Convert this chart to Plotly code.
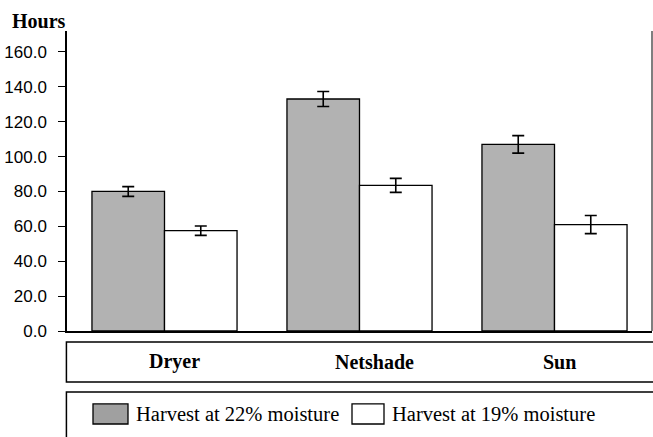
import plotly.graph_objects as go

categories = ["Dryer", "Netshade", "Sun"]
series_names = ["Harvest at 22% moisture", "Harvest at 19% moisture"]
hours_22 = [80.0, 133.0, 107.0]
err_22 = [2.8, 4.3, 5.0]
hours_19 = [57.5, 83.5, 61.0]
err_19 = [2.7, 4.0, 5.2]
y_ticks = [0, 20, 40, 60, 80, 100, 120, 140, 160]
y_tick_labels = ["0.0", "20.0", "40.0", "60.0", "80.0", "100.0", "120.0", "140.0", "160.0"]

fills = ["#b2b2b2", "#ffffff"]
legend_fills = ["#a0a0a0", "#ffffff"]

fig = go.Figure()
for name, vals, errs, col in zip(series_names, [hours_22, hours_19], [err_22, err_19], fills):
    fig.add_trace(go.Bar(
        x=categories, y=vals, name=name,
        marker=dict(color=col, line=dict(color="#000000", width=1.3)),
        error_y=dict(type="data", array=errs, visible=True, color="#000000",
                     thickness=1.6, width=6),
        showlegend=False,
    ))

serif = "Liberation Serif, Times New Roman, serif"

shapes = [
    # right frame line
    dict(type="line", xref="paper", yref="paper", x0=1, x1=1, y0=0, y1=1,
         line=dict(color="#555555", width=1.5)),
    # category box
    dict(type="rect", xref="paper", yref="paper", x0=-0.001, x1=1.05, y0=-0.17, y1=-0.037,
         line=dict(color="#000000", width=1.5), fillcolor="rgba(0,0,0,0)"),
    # legend box
    dict(type="rect", xref="paper", yref="paper", x0=-0.001, x1=1.05, y0=-0.45, y1=-0.203,
         line=dict(color="#000000", width=1.5), fillcolor="rgba(0,0,0,0)"),
]

annotations = [
    dict(text="<b>Hours</b>", xref="paper", yref="paper", x=-0.0974, y=1.035,
         xanchor="left", yanchor="middle", showarrow=False,
         font=dict(family=serif, size=20, color="#000000")),
]

cat_shift = [10, 15, 5]
for c, s in zip(categories, cat_shift):
    annotations.append(dict(text="<b>%s</b>" % c, xref="x", yref="paper", x=c, xshift=s,
                            y=-0.1033, xanchor="center", yanchor="middle", showarrow=False,
                            font=dict(family=serif, size=20, color="#000000")))

# legend (custom)
patch_x = [(93 - 67) / 585, (352 - 67) / 585]
patch_w = [35 / 585, 32 / 585]
for name, px, pw, col in zip(series_names, patch_x, patch_w, legend_fills):
    shapes.append(dict(type="rect", xref="paper", yref="paper", x0=px, x1=px + pw,
                       y0=-0.31, y1=-0.243, line=dict(color="#000000", width=1.3),
                       fillcolor=col))
    annotations.append(dict(text=name, xref="paper", yref="paper", x=px + pw + 6 / 585,
                            y=-0.2767, xanchor="left", yanchor="middle", showarrow=False,
                            font=dict(family=serif, size=20.5, color="#000000")))

fig.update_layout(
    width=653, height=437,
    margin=dict(l=67, r=1, t=31, b=106),
    paper_bgcolor="#ffffff", plot_bgcolor="#ffffff",
    barmode="group", bargap=0.256, bargroupgap=0,
    xaxis=dict(showticklabels=False, ticks="", showgrid=False, zeroline=False,
               showline=True, linecolor="#000000", linewidth=1.5),
    yaxis=dict(range=[0, 172], tickvals=y_ticks, ticktext=y_tick_labels,
               ticks="outside", ticklen=7, tickwidth=1.3, tickcolor="#000000",
               showgrid=False, zeroline=False, showline=True, linecolor="#000000",
               linewidth=1.5, ticklabelstandoff=8, automargin=False,
               tickfont=dict(family="Liberation Sans, Arial, sans-serif", size=17,
                             color="#000000")),
    shapes=shapes,
    annotations=annotations,
)

fig.write_html("out.html", config={"displayModeBar": False},
               post_script="document.body.style.margin='0';document.body.style.overflow='hidden';")
